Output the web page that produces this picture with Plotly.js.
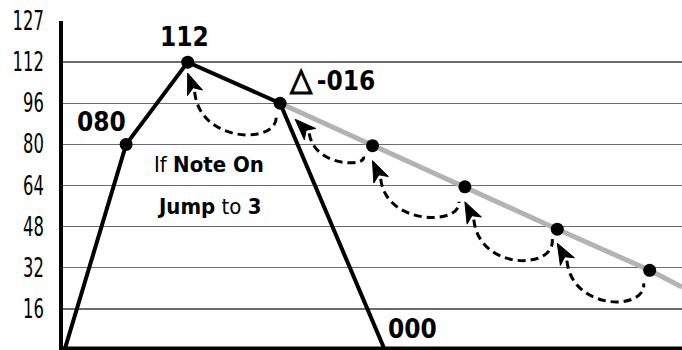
<!DOCTYPE html>
<html><head><meta charset="utf-8">
<script src="https://cdn.plot.ly/plotly-3.0.1.min.js"></script>
<style>html,body{margin:0;padding:0;background:#fff}#chart{width:682px;height:350px}</style>
</head><body><div id="chart"></div>
<script>
// ---- data ----
const envX = [0, 2, 4, 7, 10.4];          // attack -> decay -> sustain -> release
const envY = [0, 80, 112, 96, 0];
const loopX = [7, 10, 13, 16, 19, 20.05];  // grey "jump" slope
const loopY = [96, 79.5, 63.5, 47, 31, 24.5];
const tickVals = [16, 32, 48, 64, 80, 96, 112, 128];
const tickText = ['16', '32', '48', '64', '80', '96', '112', '127'];
const labelText = ['080', '112', '△\u2009-016', '000'];
// points joined by the dashed "jump" arcs
const arcPts = [[4,112],[7,96],[10,79.5],[13,63.5],[16,47],[19,31]];

// ---- layout geometry ----
const W = 682, H = 350;
const M = {l: 63, r: 0, t: 21, b: 0};
const xr = [-0.05, 20.05], yr = [0, 128];
const pw = W - M.l - M.r, ph = H - M.t - M.b;
const x2p = x => M.l + (x - xr[0]) / (xr[1] - xr[0]) * pw;
const y2p = y => M.t + (yr[1] - y) / (yr[1] - yr[0]) * ph;
const p2x = p => xr[0] + (p - M.l) / pw * (xr[1] - xr[0]);
const p2y = p => yr[1] - (p - M.t) / ph * (yr[1] - yr[0]);

// arc styling (pixel offsets)
const arcCfg = [
  {tip:[0,11],  dir:[0.37,1], end:[-4,13], depth:31},
  {tip:[15,16], dir:[1,1],    end:[-9,11], depth:16},
  {tip:[0,15],  dir:[0.45,1], end:[-6,15], depth:30},
  {tip:[0,15],  dir:[0.5,1],  end:[-5,10], depth:31},
  {tip:[0,14],  dir:[0.55,1], end:[-6,13], depth:31}
];

const shapes = [];
const annotations = [];
const P = (x, y) => p2x(x) + ',' + p2y(y);
arcCfg.forEach((c, i) => {
  const A = arcPts[i], B = arcPts[i+1];
  const ax = x2p(A[0]), ay = y2p(A[1]), bx = x2p(B[0]), by = y2p(B[1]);
  const tx = ax + c.tip[0], ty = ay + c.tip[1];
  const n = Math.hypot(c.dir[0], c.dir[1]);
  const dx = c.dir[0]/n, dy = c.dir[1]/n;
  const px = -dy, py = dx;             // perpendicular
  const L = 21, w = 8;
  const p0x = tx + dx*20, p0y = ty + dy*20;
  const p3x = bx + c.end[0], p3y = by + c.end[1];
  const bottom = by + c.depth;
  const cy = (bottom - (p0y + p3y)/8) / 0.75;
  const path = `M${P(p0x,p0y)} C${P(p0x+5,cy)} ${P(p3x+3,cy)} ${P(p3x,p3y)}`;
  shapes.push({type:'path', xref:'x', yref:'y', path: path,
    line:{color:'#000', width:3, dash:'8px,5px'}, layer:'above'});
  // cursor-style arrow head
  const head = `M${P(tx,ty)} L${P(tx+dx*L+px*w, ty+dy*L+py*w)} L${P(tx+dx*L*0.74, ty+dy*L*0.74)} L${P(tx+dx*L-px*w, ty+dy*L-py*w)} Z`;
  shapes.push({type:'path', xref:'x', yref:'y', path: head, fillcolor:'#000',
    line:{color:'#000', width:1}, layer:'above'});
});

// bottom axis bar
shapes.push({type:'line', xref:'paper', yref:'paper', x0:0, x1:1, y0:0, y1:0,
  line:{color:'#000', width:7}, layer:'above'});

const fam = '"DejaVu Sans Condensed", "Liberation Sans Narrow", sans-serif';
const bold = {family:fam, size:26, color:'#000'};
const anchors = [[envX[1], envY[1], -25, 22], [envX[2], envY[2], -3, 25], [envX[3], envY[3], 52, 24], [envX[4], envY[4], 28, 21]];
labelText.forEach((t, i) => {
  const a = anchors[i];
  const txt = t.replace('△', '<span style="font-size:32px;stroke:#000;stroke-width:1.3px">△</span>');
  annotations.push({x:a[0], y:a[1], xref:'x', yref:'y', text:'<b>'+txt+'</b>', showarrow:false,
    xshift:a[2], yshift:a[3], xanchor:'center', yanchor:'middle', font:bold});
});
const small = {family:fam, size:22, color:'#000'};
annotations.push({x:p2x(209), y:p2y(164), xref:'x', yref:'y', text:'If <b>Note On</b>', showarrow:false, font:small});
annotations.push({x:p2x(209), y:p2y(206), xref:'x', yref:'y', text:'<b>Jump</b> to <b>3</b>', showarrow:false, font:small});

const traces = [
  {x: loopX, y: loopY, mode:'lines+markers', line:{color:'#b3b3b3', width:5},
   marker:{color:'#000', opacity:1, line:{width:0}, size:loopX.map((v,i)=> (i===0||i===loopX.length-1)?0:13)}, hoverinfo:'skip', cliponaxis:false},
  {x: envX, y: envY, mode:'lines+markers', line:{color:'#000', width:4},
   marker:{color:'#000', opacity:1, line:{width:0}, size:envX.map((v,i)=> (i===0||i===envX.length-1)?0:13)}, hoverinfo:'skip'}
];

const layout = {
  width: W, height: H, margin: M, showlegend:false,
  paper_bgcolor:'#fff', plot_bgcolor:'#fff',
  xaxis:{range:xr, showgrid:false, zeroline:false, showticklabels:false, showline:false, ticks:''},
  yaxis:{range:yr, tickvals:tickVals, ticktext:tickText, showgrid:true, gridcolor:'#6b6b6b', gridwidth:1.3,
    zeroline:false, showline:true, linecolor:'#000', linewidth:4, ticks:'outside', ticklen:10,
    tickcolor:'rgba(0,0,0,0)', tickfont:{family:fam, size:26, color:'#000'}},
  shapes: shapes, annotations: annotations
};
Plotly.newPlot('chart', traces, layout, {staticPlot:true}).then(gd => {
  gd.querySelectorAll('.ytick text').forEach(t => {
    const n = t.textContent.length;
    t.setAttribute('textLength', (n * 10.4).toFixed(1));
    t.setAttribute('lengthAdjust', 'spacingAndGlyphs');
  });
});
</script></body></html>
